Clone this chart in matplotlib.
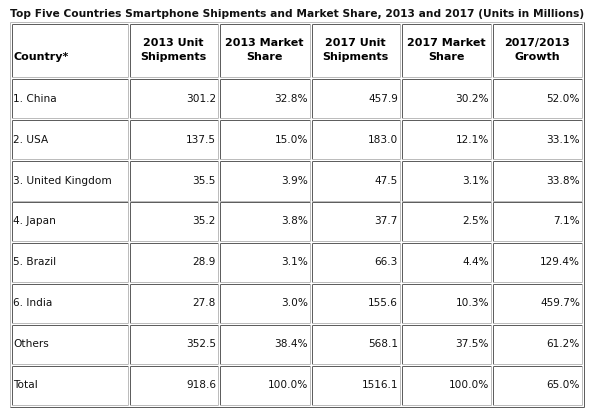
import matplotlib
matplotlib.use("Agg")
import matplotlib.pyplot as plt

# Table data:
title = "Top Five Countries Smartphone Shipments and Market Share, 2013 and 2017 (Units in Millions)"
headers = ["Country*", "2013 Unit\nShipments", "2013 Market\nShare", "2017 Unit\nShipments",
           "2017 Market\nShare", "2017/2013\nGrowth"]
countries = ["1. China", "2. USA", "3. United Kingdom", "4. Japan", "5. Brazil", "6. India", "Others", "Total"]
ship_2013 = [301.2, 137.5, 35.5, 35.2, 28.9, 27.8, 352.5, 918.6]
share_2013 = [32.8, 15.0, 3.9, 3.8, 3.1, 3.0, 38.4, 100.0]
ship_2017 = [457.9, 183.0, 47.5, 37.7, 66.3, 155.6, 568.1, 1516.1]
share_2017 = [30.2, 12.1, 3.1, 2.5, 4.4, 10.3, 37.5, 100.0]
growth = [52.0, 33.1, 33.8, 7.1, 129.4, 459.7, 61.2, 65.0]

# Layout in pixels:
W, H = 600, 411
col_left = [11, 129, 219, 311, 401, 492]
col_right = [127, 217, 309, 399, 490, 581]
head_top, head_bot = 24, 77
row_top0, row_pitch, row_h = 79, 40.8, 39
dark, light = "#5e5e5e", "#bcbcbc"
lw = 0.72

fig = plt.figure(figsize=(W / 100, H / 100), dpi=100)
ax = fig.add_axes([0, 0, 1, 1])
ax.set_xlim(0, W)
ax.set_ylim(H, 0)
ax.axis("off")


def box(x0, y0, x1, y1, tl, br):
    # top/left in one colour, bottom/right in another
    ax.plot([x0 + 0.5, x1 + 0.5], [y0 + 0.5, y0 + 0.5], color=tl, lw=lw, solid_capstyle="butt")
    ax.plot([x0 + 0.5, x0 + 0.5], [y0 + 0.5, y1 + 0.5], color=tl, lw=lw, solid_capstyle="butt")
    ax.plot([x0 + 0.5, x1 + 0.5], [y1 + 0.5, y1 + 0.5], color=br, lw=lw, solid_capstyle="butt")
    ax.plot([x1 + 0.5, x1 + 0.5], [y0 + 0.5, y1 + 0.5], color=br, lw=lw, solid_capstyle="butt")


fs = 7.6
ax.text(10, 14, title, fontsize=7.62, fontweight="bold", ha="left", va="center", color="#111111")

# Outer table border (outset)
box(9, 22, 583, 406, light, dark)

# Header row
for j, h in enumerate(headers):
    box(col_left[j], head_top, col_right[j], head_bot, dark, light)
    if j == 0:
        ax.text(col_left[j] + 2, 57, h, fontsize=8, fontweight="bold", ha="left", va="center")
    else:
        cx = (col_left[j] + col_right[j]) / 2 + 0.5
        ax.text(cx, 50, h, fontsize=8, fontweight="bold", ha="center", va="center",
                linespacing=1.45)

# Body rows
for i, name in enumerate(countries):
    y0 = row_top0 + i * row_pitch
    y1 = y0 + row_h
    cells = [name, "%.1f" % ship_2013[i], "%.1f%%" % share_2013[i], "%.1f" % ship_2017[i],
             "%.1f%%" % share_2017[i], "%.1f%%" % growth[i]]
    yc = (y0 + y1) / 2 + 0.5
    for j, c in enumerate(cells):
        box(col_left[j], round(y0), col_right[j], round(y1), dark, light)
        if j == 0:
            ax.text(col_left[j] + 2, yc, c, fontsize=fs, ha="left", va="center", color="#111111")
        else:
            ax.text(col_right[j] - 1, yc, c, fontsize=fs, ha="right", va="center", color="#111111")

fig.savefig("out.png", dpi=100, facecolor="white")
